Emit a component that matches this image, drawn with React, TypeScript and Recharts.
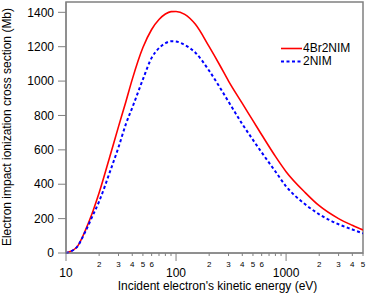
import React from 'react';
import { LineChart, Line, XAxis, YAxis, Legend, ReferenceArea } from 'recharts';

// incident electron energy (eV)
const energies = [10, 12.5, 15, 17.5, 20, 25, 30, 35, 40, 50, 60, 70, 80, 90, 100, 120, 150, 200, 250, 300, 400, 500, 600, 800, 1000, 1500, 2000, 3000, 4000, 5000];
// cross sections (Mb)
const br2nim = [0, 33, 132, 240, 350, 560, 735, 880, 1010, 1195, 1300, 1358, 1390, 1404, 1405, 1388, 1330, 1200, 1092, 1000, 870, 770, 688, 562, 473, 350, 275, 200, 161, 134];
const nim = [0, 33, 125, 218, 300, 470, 615, 750, 845, 1010, 1135, 1192, 1220, 1232, 1230, 1210, 1165, 1060, 963, 880, 750, 658, 585, 474, 388, 282, 225, 167, 137, 114];

const majorTicks = [10, 100, 1000];
const minorTicks = [20, 30, 40, 50, 60, 70, 80, 90, 200, 300, 400, 500, 600, 700, 800, 900, 2000, 3000, 4000, 5000];
const yTicks = [0, 200, 400, 600, 800, 1000, 1200, 1400];

const data = energies.map((e, i) => ({ e, br: br2nim[i], nim: nim[i] }));

const FONT = '"Liberation Sans", Arial, sans-serif';
const AXIS = '#808080';

const XTick = ({ x, y, payload }: any) => {
  const v = payload.value;
  const major = majorTicks.includes(v);
  const lead = Math.round(v / Math.pow(10, Math.floor(Math.log10(v) + 1e-9)));
  return (
    <g>
      <line x1={x} x2={x} y1={y} y2={y + (major ? 8 : 3)} stroke={AXIS} strokeWidth={1} />
      {major ? (
        <text x={x} y={y + 24} textAnchor="middle" fontSize={12} fontFamily={FONT} fill="#000">{v}</text>
      ) : lead <= 6 ? (
        <text x={x} y={y + 14} textAnchor="middle" fontSize={8} fontFamily={FONT} fill="#000">{lead}</text>
      ) : null}
    </g>
  );
};

const XTitle = ({ viewBox }: any) => (
  <text x={viewBox.x + viewBox.width / 2 + 3} y={viewBox.y + 37} textAnchor="middle" fontSize={12} fontFamily={FONT} fill="#000">
    Incident electron's kinetic energy (eV)
  </text>
);

const YTitle = ({ viewBox }: any) => {
  const cx = 11;
  const cy = viewBox.y + viewBox.height / 2 - 0.5;
  return (
    <text x={cx} y={cy} transform={`rotate(-90 ${cx} ${cy})`} textAnchor="middle" fontSize={12} fontFamily={FONT} fill="#000">
      Electron impact ionization cross section (Mb)
    </text>
  );
};

const LegendBox = () => (
  <div style={{ fontFamily: FONT, fontSize: 12, color: '#000', lineHeight: '13px' }}>
    <div style={{ display: 'flex', alignItems: 'center' }}>
      <svg width={22} height={13}><line x1={0} x2={21} y1={6.5} y2={6.5} stroke="#ff0000" strokeWidth={1.6} /></svg>
      <span>4Br2NIM</span>
    </div>
    <div style={{ display: 'flex', alignItems: 'center' }}>
      <svg width={22} height={13}><line x1={0} x2={21} y1={6.5} y2={6.5} stroke="#0000ff" strokeWidth={2} strokeDasharray="3 2.5" /></svg>
      <span>2NIM</span>
    </div>
  </div>
);

export default function App() {
  return (
    <div style={{ position: 'absolute', left: 0, top: 0, width: 366, height: 300, background: '#fff' }}>
      <LineChart width={366} height={300} data={data} margin={{ top: 2, right: 3, bottom: 0, left: 0 }}>
        <ReferenceArea x1={10} x2={5000} y1={0} y2={1460} fill="none" stroke={AXIS} strokeWidth={1.5} />
        <XAxis
          dataKey="e"
          type="number"
          scale="log"
          domain={[10, 5000]}
          allowDataOverflow
          ticks={[...majorTicks, ...minorTicks].sort((a, b) => a - b)}
          interval={0}
          tick={<XTick />}
          tickLine={false}
          tickSize={0}
          tickMargin={0}
          height={47}
          stroke={AXIS}
          label={<XTitle />}
        />
        <YAxis
          type="number"
          domain={[0, 1460]}
          ticks={yTicks}
          interval={0}
          width={66}
          tickSize={8}
          tickMargin={4}
          stroke={AXIS}
          tick={{ fill: '#000', fontSize: 12, fontFamily: FONT }}
          label={<YTitle />}
        />
        <Legend
          layout="vertical"
          align="center"
          verticalAlign="middle"
          content={<LegendBox />}
          wrapperStyle={{ top: 42, left: 281, width: 'auto', height: 'auto' }}
        />
        <Line type="monotone" dataKey="br" stroke="#ff0000" strokeWidth={1.6} dot={false} isAnimationActive={false} />
        <Line type="monotone" dataKey="nim" stroke="#0000ff" strokeWidth={2} strokeDasharray="3 2.5" dot={false} isAnimationActive={false} />
      </LineChart>
    </div>
  );
}
